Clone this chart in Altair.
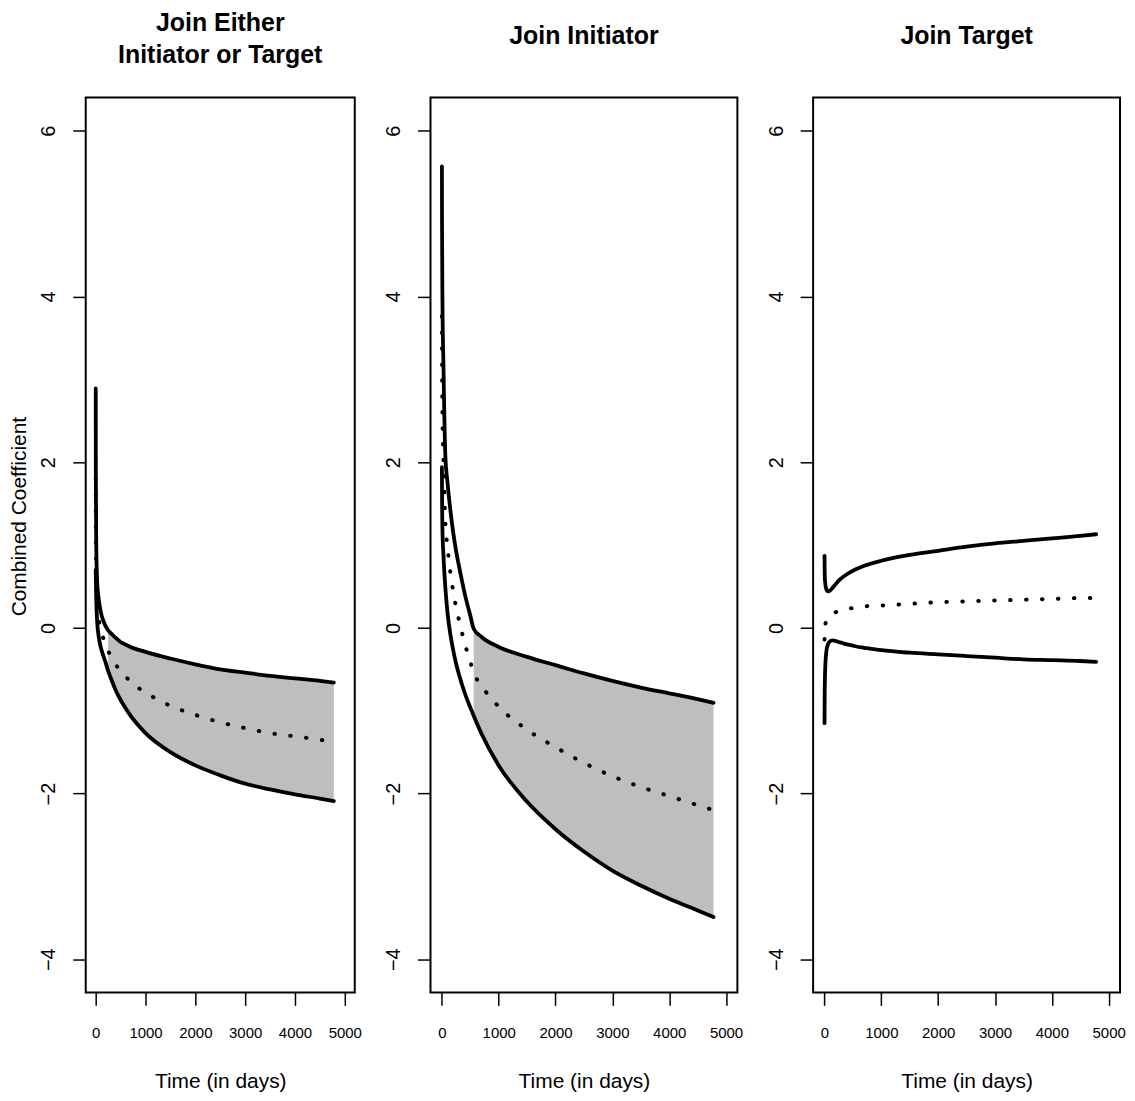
import altair as alt
import pandas as pd

# ---- data ----
times = [1, 3, 10, 30, 60, 100, 150, 200, 250, 300, 400, 500, 560, 700,
         1000, 1500, 2000, 2500, 3000, 3500, 4000, 4500, 4780]

either_upper = [2.89, 1.9, 1.05, 0.55, 0.35, 0.2, 0.09, 0.02, -0.03, -0.06, -0.12, -0.17, -0.19, -0.23,
                -0.29, -0.37, -0.44, -0.5, -0.54, -0.58, -0.61, -0.64, -0.66]
either_lower = [0.7, 0.6, 0.38, 0.07, -0.1, -0.23, -0.33, -0.42, -0.52, -0.6, -0.75, -0.87, -0.93, -1.06,
                -1.27, -1.5, -1.66, -1.78, -1.88, -1.95, -2.01, -2.06, -2.09]
either_est = [1.8, 1.25, 0.72, 0.31, 0.12, -0.02, -0.12, -0.2, -0.28, -0.33, -0.44, -0.52, -0.56, -0.65,
              -0.78, -0.94, -1.05, -1.14, -1.21, -1.27, -1.31, -1.35, -1.38]

init_upper = [5.57, 4.9, 4.0, 3.1, 2.1, 1.75, 1.42, 1.15, 0.93, 0.75, 0.42, 0.15, -0.01, -0.11,
              -0.23, -0.35, -0.45, -0.55, -0.64, -0.72, -0.79, -0.86, -0.905]
init_lower = [1.94, 1.65, 1.2, 0.85, 0.5, 0.18, -0.08, -0.27, -0.43, -0.56, -0.78, -0.96, -1.06, -1.28,
              -1.66, -2.1, -2.43, -2.7, -2.93, -3.11, -3.27, -3.41, -3.49]
init_est = [3.76, 3.28, 2.6, 1.98, 1.3, 0.97, 0.67, 0.44, 0.25, 0.1, -0.18, -0.41, -0.54, -0.7,
            -0.95, -1.23, -1.44, -1.63, -1.79, -1.92, -2.03, -2.14, -2.2]

target_upper = [0.87, 0.7, 0.56, 0.47, 0.44, 0.45, 0.49, 0.53, 0.57, 0.6, 0.65, 0.69, 0.71, 0.75,
                0.81, 0.88, 0.93, 0.98, 1.02, 1.05, 1.08, 1.11, 1.13]
target_lower = [-1.15, -0.85, -0.55, -0.3, -0.2, -0.16, -0.15, -0.16, -0.17, -0.18, -0.2, -0.215, -0.225, -0.24,
                -0.27, -0.3, -0.32, -0.34, -0.36, -0.38, -0.39, -0.4, -0.41]
target_est = [-0.14, -0.08, 0.0, 0.09, 0.12, 0.15, 0.17, 0.19, 0.2, 0.21, 0.23, 0.24, 0.25, 0.26,
              0.27, 0.29, 0.31, 0.32, 0.33, 0.34, 0.35, 0.36, 0.36]

panel_names = ["either", "initiator", "target"]
panel_titles = [["Join Either", "Initiator or Target"], ["Join Initiator"], ["Join Target"]]
x_ticks = [0, 1000, 2000, 3000, 4000, 5000]
y_ticks = [-4, -2, 0, 2, 4, 6]

series = {
    "either": (either_upper, either_lower, either_est),
    "initiator": (init_upper, init_lower, init_est),
    "target": (target_upper, target_lower, target_est),
}

rows = []
for name in panel_names:
    up, lo, es = series[name]
    for t, u, l, e in zip(times, up, lo, es):
        rows.append({"panel": name, "time": t, "upper": u, "lower": l, "est": e})
df = pd.DataFrame(rows)

FONT = "Liberation Sans"
xscale = alt.Scale(domain=[-200, 5200], nice=False, zero=False)
yscale = alt.Scale(domain=[-4.4, 6.4], nice=False, zero=False)

xaxis = alt.Axis(values=x_ticks, format="d", title="Time (in days)", grid=False, domain=False,
                 tickSize=13, tickWidth=1.5, tickColor="black", labelFontSize=15, labelFont=FONT,
                 labelColor="black", labelPadding=20, labelFlush=False, titleFont=FONT,
                 titleFontSize=21, titleFontWeight="normal", titleColor="black",
                 titleY=89, titleBaseline="middle")


def yaxis(with_title):
    kw = dict(values=y_ticks, grid=False, domain=False, tickSize=13, tickWidth=1.5,
              tickColor="black", labelFontSize=20, labelFont=FONT, labelColor="black",
              labelAngle=270, labelAlign="center", labelBaseline="middle", labelPadding=24,
              labelFlush=False)
    if with_title:
        kw.update(title="Combined Coefficient", titleFont=FONT, titleFontSize=21,
                  titleFontWeight="normal", titleColor="black", titleX=-66, titleY=420,
                  titleAngle=270, titleBaseline="middle", titleAlign="center")
    else:
        kw.update(title=None)
    return alt.Axis(**kw)


def panel(name, title, width, offset, with_ytitle):
    base = alt.Chart(df).transform_filter(alt.datum.panel == name)
    ya = yaxis(with_ytitle)
    x = alt.X("time:Q", scale=xscale, axis=xaxis)
    shade = base.transform_filter("datum.upper <= 0").mark_area(
        color="#BEBEBE", interpolate="monotone").encode(
        x=x, y=alt.Y("lower:Q", scale=yscale, axis=ya), y2="upper:Q")
    solid = dict(color="black", strokeWidth=3.8, strokeCap="round", strokeJoin="round",
                 interpolate="monotone")
    up = base.mark_line(**solid).encode(x=x, y=alt.Y("upper:Q", scale=yscale, axis=ya))
    lo = base.mark_line(**solid).encode(x=x, y=alt.Y("lower:Q", scale=yscale, axis=ya))
    es = base.mark_line(color="black", strokeWidth=4, strokeCap="round",
                        strokeDash=[0.5, 15.5], interpolate="monotone").encode(
        x=x, y=alt.Y("est:Q", scale=yscale, axis=ya))
    return alt.layer(shade, up, lo, es).properties(
        width=width, height=898,
        title=alt.TitleParams(text=title, font=FONT, fontSize=25, fontWeight="bold",
                              color="black", anchor="middle", lineHeight=32, offset=offset))


p1 = panel("either", panel_titles[0], 270, 30, True)
p2 = panel("initiator", panel_titles[1], 308, 49, False)
p3 = panel("target", panel_titles[2], 308, 49, False)

chart = alt.hconcat(p1, p2, p3, spacing=76, bounds="flush").properties(
    padding={"left": 0, "top": 0, "right": 0, "bottom": 0}
).configure(font=FONT).configure_view(stroke="black", strokeWidth=2)

chart.save("out.html", embed_options={"renderer": "svg", "actions": False})
